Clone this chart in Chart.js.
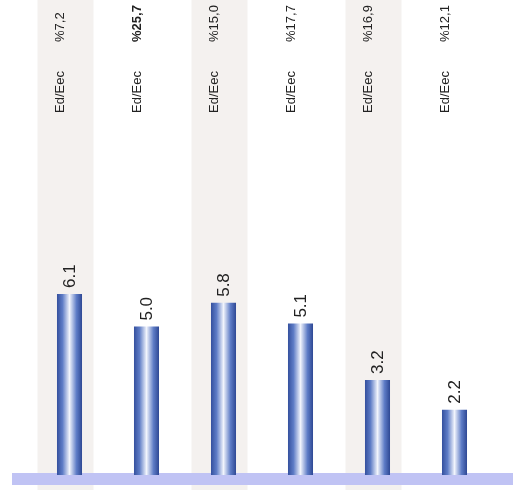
<!DOCTYPE html>
<html>
<head>
<meta charset="utf-8">
<script src="https://cdn.jsdelivr.net/npm/chart.js@4.4.1/dist/chart.umd.min.js"></script>
<style>
  html, body { margin: 0; padding: 0; background: #ffffff; }
  #wrap { width: 513px; height: 490px; }
</style>
</head>
<body>
<div id="wrap"><canvas id="chart" width="513" height="490"></canvas></div>
<script>
// values
const categories = ["1", "2", "3", "4", "5", "6"];
const values = [6.1, 5.0, 5.8, 5.1, 3.2, 2.2];
const topLabels = ["Ed/Eec", "Ed/Eec", "Ed/Eec", "Ed/Eec", "Ed/Eec", "Ed/Eec"];
const percentLabels = ["%7,2", "%25,7", "%15,0", "%17,7", "%16,9", "%12,1"];
const shadedColumns = [0, 2, 4];

const FONT = "'Liberation Sans', Arial, sans-serif";

// pipe-like gradient across each bar
function barGradient(ctx) {
    const chart = ctx.chart;
    if (!chart.chartArea || ctx.dataIndex === undefined) return "#4a68b4";
    const xs = chart.scales.x;
    const cx = xs.getPixelForValue(ctx.dataIndex);
    const half = 12.5;
    const g = chart.ctx.createLinearGradient(cx - half, 0, cx + half, 0);
    g.addColorStop(0, "#34509e");
    g.addColorStop(0.22, "#5e7cc6");
    g.addColorStop(0.5, "#f1f4fc");
    g.addColorStop(0.78, "#5e7cc6");
    g.addColorStop(1, "#2e4894");
    return g;
}

const backdrop = {
    id: "backdrop",
    beforeDatasetsDraw(chart) {
        const c = chart.ctx;
        const xs = chart.scales.x, ys = chart.scales.y;
        c.save();
        // light vertical bands behind every other column
        c.fillStyle = "#f4f1ef";
        shadedColumns.forEach(i => {
            const cx = xs.getPixelForValue(i) - 4;
            c.fillRect(cx - 28, 0, 56, chart.height);
        });
        // floor strip
        const y0 = ys.getPixelForValue(0);
        c.fillStyle = "#c0c3f4";
        c.fillRect(12, y0 - 2, chart.width - 12, 12);
        c.restore();
    }
};

const texts = {
    id: "texts",
    afterDatasetsDraw(chart) {
        const c = chart.ctx;
        const meta = chart.getDatasetMeta(0);
        const xs = chart.scales.x;
        c.save();
        c.fillStyle = "#222222";
        c.textBaseline = "middle";
        c.textAlign = "left";
        // value labels above bars
        meta.data.forEach((bar, i) => {
            c.save();
            c.translate(bar.x + 1, bar.y - 6);
            c.rotate(-Math.PI / 2);
            c.font = "17px " + FONT;
            c.fillText(values[i].toFixed(1), 0, 0);
            c.restore();
        });
        // header texts along the top
        categories.forEach((cat, i) => {
            const x = xs.getPixelForValue(i) - 9;
            c.save();
            c.translate(x, 113);
            c.rotate(-Math.PI / 2);
            c.font = "13px " + FONT;
            c.fillText(topLabels[i], 0, 0);
            c.restore();
            c.save();
            c.translate(x, 42);
            c.rotate(-Math.PI / 2);
            c.font = (i === 1 ? "bold " : "") + "13px " + FONT;
            c.fillText(percentLabels[i], 0, 0);
            c.restore();
        });
        c.restore();
    }
};

new Chart(document.getElementById("chart").getContext("2d"), {
    type: "bar",
    data: {
        labels: categories,
        datasets: [{
            data: values,
            backgroundColor: barGradient,
            borderWidth: 0,
            barPercentage: 0.325,
            categoryPercentage: 1
        }]
    },
    options: {
        responsive: false,
        animation: false,
        layout: { padding: { left: 31, right: 20, top: 0, bottom: 15 } },
        plugins: {
            legend: { display: false },
            tooltip: { enabled: false }
        },
        scales: {
            x: { display: false },
            y: { display: false, min: 0, max: 16 }
        }
    },
    plugins: [backdrop, texts]
});
</script>
</body>
</html>
